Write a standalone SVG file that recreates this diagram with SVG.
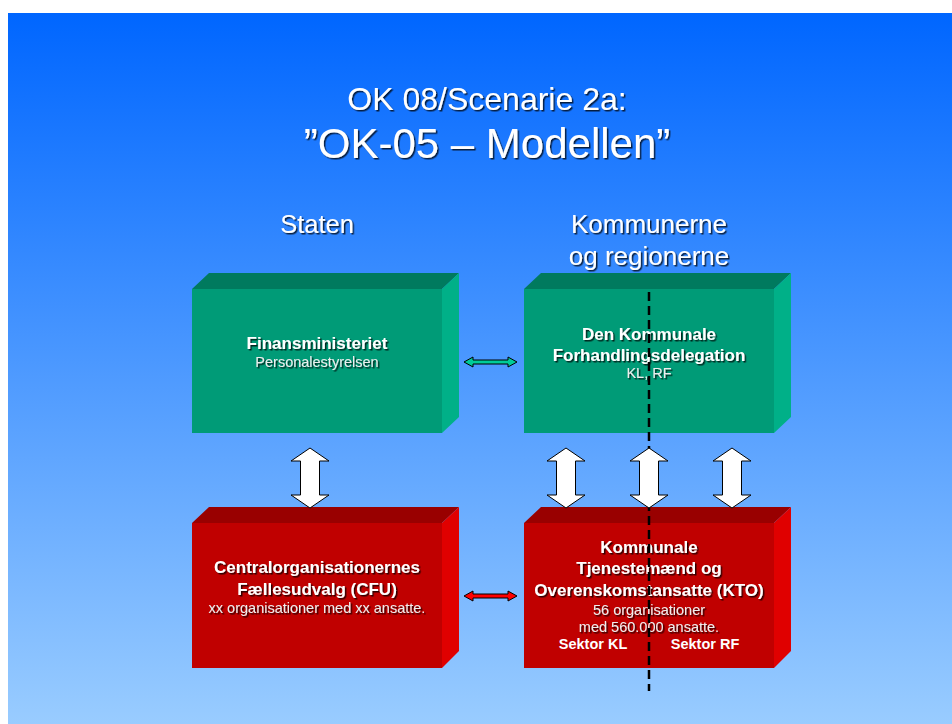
<svg xmlns="http://www.w3.org/2000/svg" width="952" height="724" viewBox="0 0 952 724">
<defs>
<linearGradient id="bg" x1="0" y1="0" x2="0" y2="1">
<stop offset="0" stop-color="#0066FF"/>
<stop offset="1" stop-color="#99CCFF"/>
</linearGradient>
<filter id="sh" x="-10%" y="-30%" width="120%" height="160%">
<feDropShadow dx="1.5" dy="1.5" stdDeviation="0.3" flood-color="#000" flood-opacity="0.75"/>
</filter>
</defs>
<style>
text{font-family:"Liberation Sans",Arial,sans-serif;text-anchor:middle;fill:#fff}
.title{filter:url(#sh)}
.b{font-weight:bold;font-size:17px;filter:url(#sh)}
.s{font-size:14.5px;fill:#eeeeee;filter:url(#sh)}
.sec{font-weight:bold;font-size:14.5px}
.gf{fill:#009B77}.gt{fill:#007A5E}.gr{fill:#00B088}
.rf{fill:#C00000}.rt{fill:#990000}.rr{fill:#E00000}
.va{fill:#fff;stroke:#000;stroke-width:1}
</style>
<rect x="8" y="13" width="944" height="711" fill="url(#bg)"/>
<g id="title">
<text class="title" x="487" y="110" font-size="32">OK 08/Scenarie 2a:</text>
<text class="title" x="487" y="158" font-size="42">”OK-05 – Modellen”</text>
</g>
<g id="headers">
<text class="title" x="317" y="233" font-size="25.5">Staten</text>
<text class="title" x="649" y="233" font-size="26">Kommunerne</text>
<text class="title" x="649" y="265" font-size="26">og regionerne</text>
</g>
<g id="finansministeriet">
<polygon class="gt" points="192,289 209,273 459,273 442,289"/>
<polygon class="gr" points="442,289 459,273 459,417 442,433"/>
<rect class="gf" x="192" y="289" width="250" height="144"/>
<text class="b" x="317" y="349">Finansministeriet</text>
<text class="s" x="317" y="367">Personalestyrelsen</text>
</g>
<g id="kfd">
<polygon class="gt" points="524,289 541,273 791,273 774,289"/>
<polygon class="gr" points="774,289 791,273 791,417 774,433"/>
<rect class="gf" x="524" y="289" width="250" height="144"/>
<text class="b" x="649" y="340">Den Kommunale</text>
<text class="b" x="649" y="361">Forhandlingsdelegation</text>
<text class="s" x="649" y="378">KL, RF</text>
</g>
<g id="cfu">
<polygon class="rt" points="192,523 209,507 459,507 442,523"/>
<polygon class="rr" points="442,523 459,507 459,651 442,668"/>
<rect class="rf" x="192" y="523" width="250" height="145"/>
<text class="b" x="317" y="573">Centralorganisationernes</text>
<text class="b" x="317" y="595">Fællesudvalg (CFU)</text>
<text class="s" x="317" y="613">xx organisationer med xx ansatte.</text>
</g>
<g id="kto">
<polygon class="rt" points="524,523 541,507 791,507 774,523"/>
<polygon class="rr" points="774,523 791,507 791,651 774,668"/>
<rect class="rf" x="524" y="523" width="250" height="145"/>
<text class="b" x="649" y="553">Kommunale</text>
<text class="b" x="649" y="574">Tjenestemænd og</text>
<text class="b" x="649" y="596">Overenskomstansatte (KTO)</text>
<text class="s" x="649" y="615">56 organisationer</text>
<text class="s" x="649" y="632">med 560.000 ansatte.</text>
<text class="sec" x="593" y="649">Sektor KL</text>
<text class="sec" x="705" y="649">Sektor RF</text>
</g>
<g id="connectors">
<line x1="649" y1="292" x2="649" y2="691" stroke="#000" stroke-width="2.5" stroke-dasharray="9 5"/>
<polygon fill="#00CC99" stroke="#000" stroke-width="1" points="464,362 473,357 473,360 508,360 508,357 517,362 508,367 508,364 473,364 473,367"/>
<polygon fill="#FF0000" stroke="#000" stroke-width="1" points="464,596 473,591 473,594 508,594 508,591 517,596 508,601 508,598 473,598 473,601"/>
<polygon class="va" points="310,448 329,461 319.5,461 319.5,495 329,495 310,508 291,495 300.5,495 300.5,461 291,461"/>
<polygon class="va" points="566,448 585,461 575.5,461 575.5,495 585,495 566,508 547,495 556.5,495 556.5,461 547,461"/>
<polygon class="va" points="649,448 668,461 658.5,461 658.5,495 668,495 649,508 630,495 639.5,495 639.5,461 630,461"/>
<polygon class="va" points="732,448 751,461 741.5,461 741.5,495 751,495 732,508 713,495 722.5,495 722.5,461 713,461"/>
</g>
</svg>
